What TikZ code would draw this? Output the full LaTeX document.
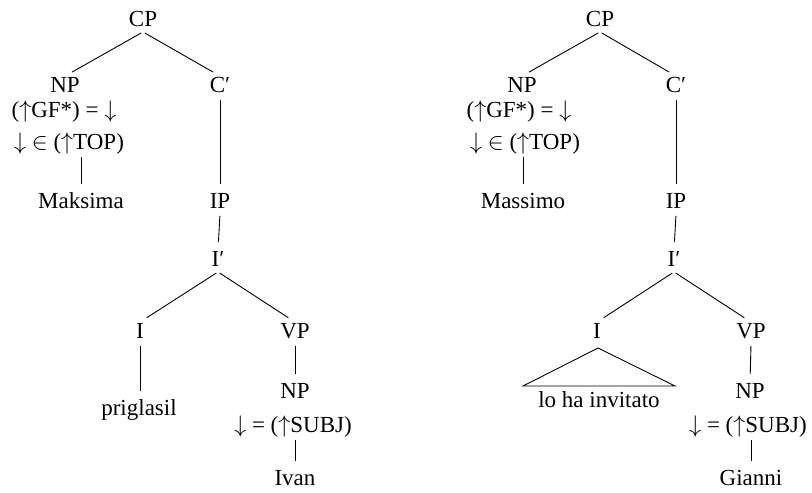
\documentclass[tikz,border=0pt]{standalone}
\usepackage{fontspec}
\setmainfont{Liberation Serif}
\newcommand{\up}{$\uparrow$}
\newcommand{\dn}{$\downarrow$}

\begin{document}
\begin{tikzpicture}[x=0.5pt, y=-0.5pt, line width=0.45pt]
  \tikzstyle{tn}=[inner sep=0pt, text height=8pt, text depth=2.5pt,
    font=\fontsize{11.5}{13}\selectfont]
  \tikzstyle{br}=[shorten <=1pt, shorten >=4pt]
  \useasboundingbox (0,0) rectangle (812,492);

  % Russian tree
  \node[tn] (cp1)   at (143,21)  {CP};
  \node[tn] (np1)   at (65,87)   {NP};
  \node[tn] (gf1)   at (64,112)  {(\up GF*) = \dn};
  \node[tn] (top1)  at (69,144)  {\dn\ $\in$ (\up TOP)};
  \node[tn] (cb1)   at (220,87)  {C′};
  \node[tn] (maks)  at (81,203)  {Maksima};
  \node[tn] (ip1)   at (220,203) {IP};
  \node[tn] (ib1)   at (218,261) {I′};
  \node[tn] (i1)    at (140,333) {I};
  \node[tn] (vp1)   at (295,333) {VP};
  \node[tn] (prig)  at (139,410) {priglasil};
  \node[tn] (np1b)  at (295,393) {NP};
  \node[tn] (subj1) at (293,427) {\dn\ = (\up SUBJ)};
  \node[tn] (ivan)  at (295,480) {Ivan};

  \draw[br] (cp1.south) -- (np1.north);
  \draw[br] (cp1.south) -- (cb1.north);
  \draw[br] (top1.south -| maks) -- (maks.north);
  \draw[br] (cb1.south) -- (ip1.north);
  \draw[br] (ip1.south) -- (ib1.north);
  \draw[br] (ib1.south) -- (i1.north);
  \draw[br] (ib1.south) -- (vp1.north);
  \draw[br] (i1.south) -- (prig.north -| i1);
  \draw[br] (vp1.south) -- (np1b.north);
  \draw[br] (subj1.south -| ivan) -- (ivan.north);

  % Italian tree
  \node[tn] (cp2)   at (600,21)  {CP};
  \node[tn] (np2)   at (522,87)  {NP};
  \node[tn] (gf2)   at (519,112) {(\up GF*) = \dn};
  \node[tn] (top2)  at (525,144) {\dn\ $\in$ (\up TOP)};
  \node[tn] (cb2)   at (676,87)  {C′};
  \node[tn] (mass)  at (523,203) {Massimo};
  \node[tn] (ip2)   at (676,203) {IP};
  \node[tn] (ib2)   at (674,261) {I′};
  \node[tn] (i2)    at (597,333) {I};
  \node[tn] (vp2)   at (751,333) {VP};
  \node[tn] (invit) at (599,402) {lo ha invitato};
  \node[tn] (np2b)  at (750,393) {NP};
  \node[tn] (subj2) at (748,427) {\dn\ = (\up SUBJ)};
  \node[tn] (gian)  at (751,480) {Gianni};

  \coordinate (apex) at (598,348);
  \coordinate (triL) at (523,386);
  \coordinate (triR) at (675,386);

  \draw[br] (cp2.south) -- (np2.north);
  \draw[br] (cp2.south) -- (cb2.north);
  \draw[br] (top2.south -| mass) -- (mass.north);
  \draw[br] (cb2.south) -- (ip2.north);
  \draw[br] (ip2.south) -- (ib2.north);
  \draw[br] (ib2.south) -- (i2.north);
  \draw[br] (ib2.south) -- (vp2.north);
  \draw (apex) -- (triL) -- (triR) -- cycle;
  \draw[br] (vp2.south) -- (np2b.north);
  \draw[br] (subj2.south -| gian) -- (gian.north);
\end{tikzpicture}
\end{document}
